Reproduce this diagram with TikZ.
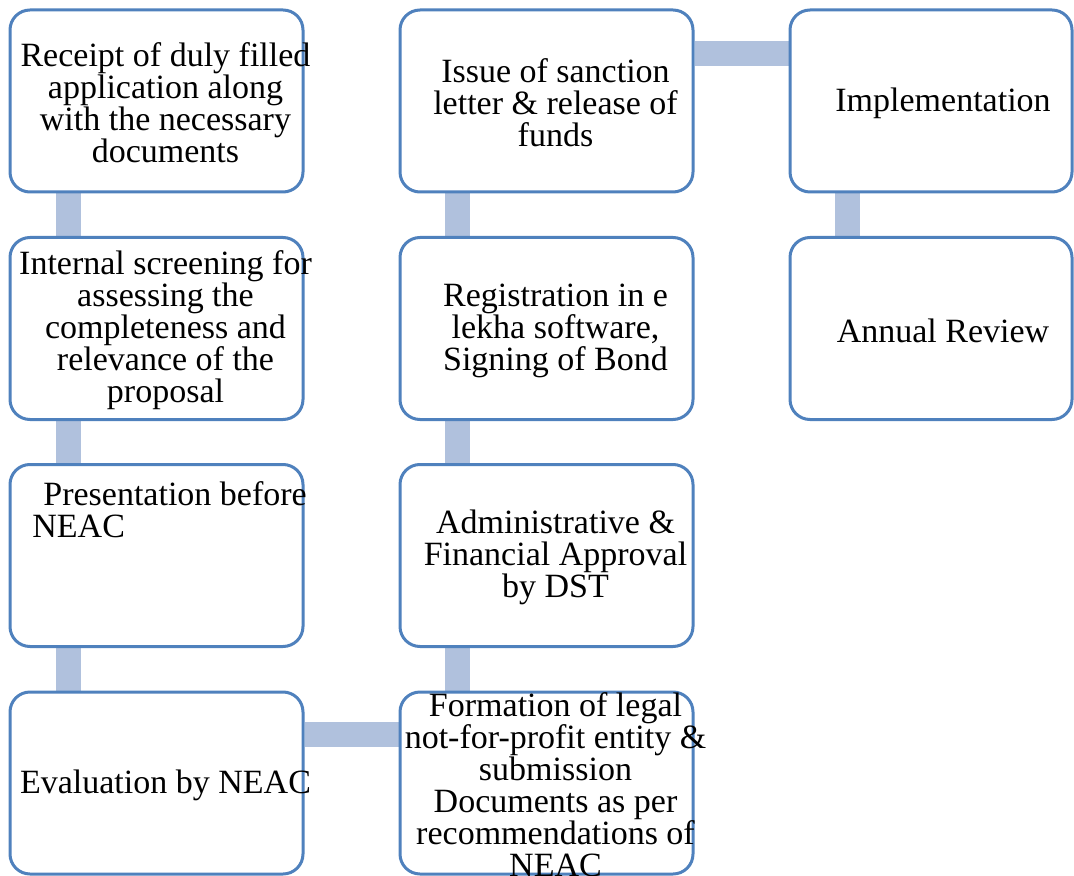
\documentclass[tikz,border=0pt]{standalone}
\usepackage{fontspec}
\setmainfont{Liberation Serif}
\usetikzlibrary{backgrounds}
\definecolor{boxblue}{HTML}{4F81BD}
\definecolor{linkblue}{HTML}{B0C1DD}
\tikzstyle{box} = [draw=boxblue, line width=1.5pt, rounded corners=10pt, fill=white, minimum width=146.5pt, minimum height=91pt, inner sep=0pt]
\tikzstyle{txt} = [font=\fontsize{17}{16}\selectfont, align=center, inner sep=0pt, xshift=4.5pt, yshift=-1pt]
\tikzstyle{link} = [draw=linkblue, line width=12.5pt]

\begin{document}
\begin{tikzpicture}[x=0.5pt, y=-0.5pt]
        \useasboundingbox (0,0) rectangle (1074,876);

        % first column
        \node[box](receipt) at (156.5,101) {};
        \node[box](screening) at (156.5,328.5) {};
        \node[box](presentation) at (156.5,555.5) {};
        \node[box](evaluation) at (156.5,783) {};

        % second column
        \node[box](sanction) at (546.5,101) {};
        \node[box](registration) at (546.5,328.5) {};
        \node[box](approval) at (546.5,555.5) {};
        \node[box](formation) at (546.5,783) {};

        % third column
        \node[box, minimum width=141pt](implementation) at (931,101) {};
        \node[box, minimum width=141pt](review) at (931,328.5) {};

        % texts
        \node[txt](t-receipt) at (receipt) {Receipt of duly filled \\ application along \\ with the necessary \\ documents};
        \node[txt](t-screening) at (screening) {Internal screening for \\ assessing the \\ completeness and \\ relevance of the \\ proposal};
        \node[font=\fontsize{17}{16}\selectfont, align=left, inner sep=0pt, anchor=north west](t-presentation) at (32,481) {\hspace*{5.5pt}Presentation before \\ NEAC};
        \node[txt](t-evaluation) at (evaluation) {Evaluation by NEAC};
        \node[txt](t-sanction) at (sanction) {Issue of sanction \\ letter \& release of \\ funds};
        \node[txt](t-registration) at (registration) {Registration in e \\ lekha software, \\ Signing of Bond};
        \node[txt](t-approval) at (approval) {Administrative \& \\ Financial Approval \\ by DST};
        \node[txt](t-formation) at (formation) {Formation of legal \\ not-for-profit entity \& \\ submission \\ Documents as per \\ recommendations of \\ NEAC};
        \node[txt, xshift=1.5pt](t-implementation) at (implementation) {Implementation};
        \node[txt, xshift=1.5pt](t-review) at (review) {Annual Review};

        \begin{scope}[on background layer]
            \draw[link] ([xshift=29.75pt]receipt.south west) -- ([xshift=29.75pt]screening.north west);
            \draw[link] ([xshift=29.75pt]screening.south west) -- ([xshift=29.75pt]presentation.north west);
            \draw[link] ([xshift=29.75pt]presentation.south west) -- ([xshift=29.75pt]evaluation.north west);
            \draw[link] ([yshift=-21.75pt]evaluation.north east) -- ([yshift=-21.75pt]formation.north west);
            \draw[link] ([xshift=29.5pt]formation.north west) -- ([xshift=29.5pt]approval.south west);
            \draw[link] ([xshift=29.5pt]approval.north west) -- ([xshift=29.5pt]registration.south west);
            \draw[link] ([xshift=29.5pt]registration.north west) -- ([xshift=29.5pt]sanction.south west);
            \draw[link] ([yshift=-22.5pt]sanction.north east) -- ([yshift=-22.5pt]implementation.north west);
            \draw[link] ([xshift=29.5pt]implementation.south west) -- ([xshift=29.5pt]review.north west);
        \end{scope}
    \end{tikzpicture}
\end{document}
